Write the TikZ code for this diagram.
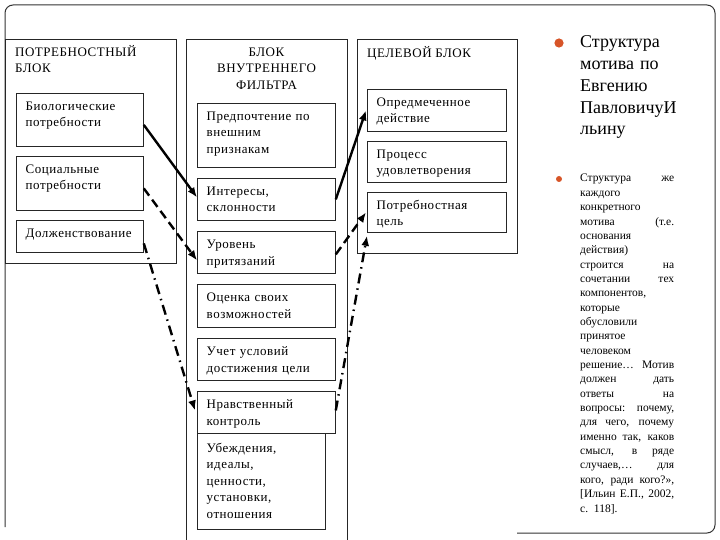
\documentclass[tikz,border=0pt]{standalone}
\usepackage{fontspec}
\setmainfont{Liberation Serif}
\newfontfamily\boxfont[LetterSpace=4]{Liberation Serif}
\usetikzlibrary{arrows.meta,calc}
\definecolor{bul}{RGB}{215,85,40}
\newcommand\jl[1]{\makebox[94pt][s]{\spaceskip=.3333em plus 1fil\xspaceskip=.3333em plus 1fil\relax #1}}
\tikzset{
  frame/.style={draw=black!80, line width=1pt},
  blockline/.style={draw=black!85, line width=0.8pt},
  boxframe/.style={draw=black!85, line width=0.8pt, anchor=north west, inner sep=0pt},
  boxtxt/.style={font=\boxfont\fontsize{13}{16.5}\selectfont, align=left, text width=140pt, inner sep=0pt, anchor=base west},
  headtxt/.style={font=\boxfont\fontsize{13}{16.5}\selectfont, inner sep=0pt, anchor=base west},
  arr/.style={line width=2.4pt, -{Latex[length=10pt,width=8pt]}},
  dasharr/.style={arr, dash pattern=on 9pt off 5pt},
  dotarr/.style={arr, dash pattern=on 10pt off 5pt on 1.5pt off 5pt},
}
\newcommand\bx[6]{%
  \node[boxframe, minimum width={#4pt-#2pt}, minimum height={#5pt-#3pt}] (#1) at (#2,#3) {};
  \node[boxtxt] (#1t) at ([xshift=9.5pt,yshift=-17.5pt]#1.north west) {#6};
}
\begin{document}
\begin{tikzpicture}[x=1pt,y=-1pt]
\useasboundingbox (0,0) rectangle (720,540);
% outer frame
\draw[frame, rounded corners=8pt] (5,527) -- (5,5) -- (715,5) -- (715,533) -- (517,533);
% blocks
\draw[blockline, fill=white] (5,39) rectangle (176,263);
\draw[blockline] (186,545) -- (186,39) -- (347,39) -- (347,545);
\draw[blockline, fill=white] (357,39) rectangle (517,253);
% headings
\node[headtxt, align=left, text width=160pt] (h1) at (15,56.5) {ПОТРЕБНОСТНЫЙ\\БЛОК};
\node[font=\boxfont\fontsize{13}{16.5}\selectfont, inner sep=0pt, align=center, text width=150pt, anchor=base] (h2) at (266.5,56.5) {БЛОК\\ВНУТРЕННЕГО\\ФИЛЬТРА};
\node[headtxt] (h3) at (367,58) {ЦЕЛЕВОЙ БЛОК};
% left boxes
\bx{bio}{16}{93}{143}{146}{Биологические\\потребности}
\bx{soc}{16}{156}{143}{210}{Социальные\\потребности}
\bx{dol}{16}{220}{143}{252}{Долженствование}
% middle boxes
\bx{pre}{197}{103}{335}{167}{Предпочтение по\\внешним\\признакам}
\bx{int}{197}{178}{335}{220}{Интересы,\\склонности}
\bx{urv}{197}{231}{335}{273}{Уровень\\притязаний}
\bx{ocn}{197}{284}{335}{327}{Оценка своих\\возможностей}
\bx{uch}{197}{338}{335}{380}{Учет условий\\достижения цели}
\bx{ube}{197}{433}{325}{529}{}
\node[boxtxt] (ubet) at ([xshift=9.5pt,yshift=-19pt]ube.north west) {Убеждения,\\идеалы,\\ценности,\\установки,\\отношения};
\bx{nrv}{197}{391}{335}{433}{Нравственный\\контроль}
% right boxes
\bx{opr}{367}{89}{506}{131}{Опредмеченное\\действие}
\bx{prc}{367}{141}{506}{182}{Процесс\\удовлетворения}
\bx{pcl}{367}{192}{506}{232}{Потребностная\\цель}
% arrows
\draw[arr] ([yshift=-5pt]bio.east) -- ([yshift=2pt]int.west);
\draw[dasharr] ([yshift=-5pt]soc.east) -- ([yshift=-8pt]urv.west);
\draw[dotarr] ([yshift=-7pt]dol.east) -- ([xshift=-2pt,yshift=2pt]nrv.west);
\draw[arr] (int.east) -- ([xshift=-1pt]opr.west);
\draw[dasharr] ([yshift=-2pt]urv.east) -- ([xshift=-1pt]pcl.west);
\draw[dotarr] ([yshift=2pt]nrv.east) -- ([yshift=-3pt]pcl.south west);
% right text
\fill[bul] (559,43) circle (4.6pt);
\node[font=\fontsize{18}{21.7}\selectfont, align=left, text width=130pt, inner sep=0pt, anchor=base west] (title) at (580,48) {Структура\\мотива по\\Евгению\\ПавловичуИ\\льину};
\fill[bul] (559,179) circle (3pt);
\node[font=\fontsize{11.5}{14.35}\selectfont, align=left, text width=110pt, inner sep=0pt, anchor=base west] (body) at (580,182) {%
\jl{Структура же}\\
каждого\\
конкретного\\
\jl{мотива (т.е.}\\
основания\\
действия)\\
\jl{строится на}\\
\jl{сочетании тех}\\
компонентов,\\
которые\\
обусловили\\
принятое\\
человеком\\
\jl{решение… Мотив}\\
\jl{должен дать}\\
\jl{ответы на}\\
\jl{вопросы: почему,}\\
\jl{для чего, почему}\\
\jl{именно так, каков}\\
\jl{смысл, в ряде}\\
\jl{случаев,… для}\\
\jl{кого, ради кого?»,}\\
\jl{[Ильин Е.П., 2002,}\\
с. 118].};
\end{tikzpicture}
\end{document}
